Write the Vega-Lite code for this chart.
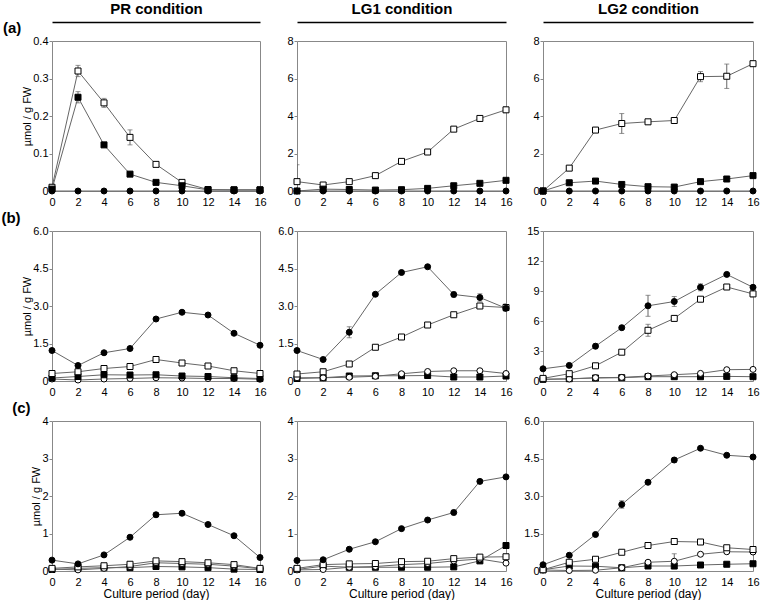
{
  "$schema": "https://vega.github.io/schema/vega-lite/v6.json",
  "padding": 0,
  "background": "white",
  "columns": 3,
  "spacing": {"row": 2, "column": 10},
  "config": {
    "font": "Liberation Sans",
    "view": {"stroke": "#888", "strokeWidth": 1},
    "axis": {"labelFont": "Liberation Sans", "labelFontSize": 11, "labelColor": "black", "titleFont": "Liberation Sans", "titleFontSize": 11, "titleFontWeight": "normal", "titleColor": "black", "grid": false, "domain": false, "tickColor": "#888", "tickSize": 3, "labelFlush": false, "labelOverlap": false},
    "axisX": {"ticks": false, "labelPadding": 5, "titlePadding": 1, "titleFontSize": 12},
    "axisY": {"labelPadding": 1, "titlePadding": 0},
    "title": {"font": "Liberation Sans", "color": "black"}
  },
  "datasets": {
    "aPR": [
      {"series": "os", "day": 0, "value": 0.01}, {"series": "os", "day": 2, "value": 0.32, "sd": 0.015}, {"series": "os", "day": 4, "value": 0.235, "sd": 0.012}, {"series": "os", "day": 6, "value": 0.143, "sd": 0.02}, {"series": "os", "day": 8, "value": 0.071, "sd": 0.005}, {"series": "os", "day": 10, "value": 0.023, "sd": 0.003}, {"series": "os", "day": 12, "value": 0.004}, {"series": "os", "day": 14, "value": 0.003}, {"series": "os", "day": 16, "value": 0.003},
      {"series": "fs", "day": 0, "value": 0.005}, {"series": "fs", "day": 2, "value": 0.25, "sd": 0.015}, {"series": "fs", "day": 4, "value": 0.123, "sd": 0.004}, {"series": "fs", "day": 6, "value": 0.045}, {"series": "fs", "day": 8, "value": 0.023}, {"series": "fs", "day": 10, "value": 0.014}, {"series": "fs", "day": 12, "value": 0.003}, {"series": "fs", "day": 14, "value": 0.003}, {"series": "fs", "day": 16, "value": 0.003},
      {"series": "fc", "day": 0, "value": 0}, {"series": "fc", "day": 2, "value": 0}, {"series": "fc", "day": 4, "value": 0}, {"series": "fc", "day": 6, "value": 0}, {"series": "fc", "day": 8, "value": 0}, {"series": "fc", "day": 10, "value": 0}, {"series": "fc", "day": 12, "value": 0}, {"series": "fc", "day": 14, "value": 0}, {"series": "fc", "day": 16, "value": 0}
    ],
    "aLG1": [
      {"series": "os", "day": 0, "value": 0.5, "sd": 0.9}, {"series": "os", "day": 2, "value": 0.32}, {"series": "os", "day": 4, "value": 0.5}, {"series": "os", "day": 6, "value": 0.82}, {"series": "os", "day": 8, "value": 1.58}, {"series": "os", "day": 10, "value": 2.08}, {"series": "os", "day": 12, "value": 3.3, "sd": 0.05}, {"series": "os", "day": 14, "value": 3.87, "sd": 0.12}, {"series": "os", "day": 16, "value": 4.33, "sd": 0.15},
      {"series": "fs", "day": 0, "value": 0}, {"series": "fs", "day": 2, "value": 0.1}, {"series": "fs", "day": 4, "value": 0.08}, {"series": "fs", "day": 6, "value": 0.05}, {"series": "fs", "day": 8, "value": 0.07}, {"series": "fs", "day": 10, "value": 0.14}, {"series": "fs", "day": 12, "value": 0.28}, {"series": "fs", "day": 14, "value": 0.41}, {"series": "fs", "day": 16, "value": 0.57},
      {"series": "fc", "day": 0, "value": 0}, {"series": "fc", "day": 2, "value": 0}, {"series": "fc", "day": 4, "value": 0}, {"series": "fc", "day": 6, "value": 0}, {"series": "fc", "day": 8, "value": 0}, {"series": "fc", "day": 10, "value": 0}, {"series": "fc", "day": 12, "value": 0}, {"series": "fc", "day": 14, "value": 0}, {"series": "fc", "day": 16, "value": 0}
    ],
    "aLG2": [
      {"series": "os", "day": 0, "value": 0}, {"series": "os", "day": 2, "value": 1.22}, {"series": "os", "day": 4, "value": 3.25, "sd": 0.08}, {"series": "os", "day": 6, "value": 3.6, "sd": 0.53}, {"series": "os", "day": 8, "value": 3.69}, {"series": "os", "day": 10, "value": 3.76}, {"series": "os", "day": 12, "value": 6.1, "sd": 0.27}, {"series": "os", "day": 14, "value": 6.12, "sd": 0.65}, {"series": "os", "day": 16, "value": 6.79, "sd": 0.15},
      {"series": "fs", "day": 0, "value": 0}, {"series": "fs", "day": 2, "value": 0.44}, {"series": "fs", "day": 4, "value": 0.53}, {"series": "fs", "day": 6, "value": 0.35}, {"series": "fs", "day": 8, "value": 0.23}, {"series": "fs", "day": 10, "value": 0.21}, {"series": "fs", "day": 12, "value": 0.5}, {"series": "fs", "day": 14, "value": 0.64}, {"series": "fs", "day": 16, "value": 0.82},
      {"series": "fc", "day": 0, "value": 0}, {"series": "fc", "day": 2, "value": 0}, {"series": "fc", "day": 4, "value": 0}, {"series": "fc", "day": 6, "value": 0}, {"series": "fc", "day": 8, "value": 0}, {"series": "fc", "day": 10, "value": 0}, {"series": "fc", "day": 12, "value": 0}, {"series": "fc", "day": 14, "value": 0}, {"series": "fc", "day": 16, "value": 0}
    ],
    "bPR": [
      {"series": "oc", "day": 0, "value": 0.08}, {"series": "oc", "day": 2, "value": 0.04}, {"series": "oc", "day": 4, "value": 0.08}, {"series": "oc", "day": 6, "value": 0.1}, {"series": "oc", "day": 8, "value": 0.13}, {"series": "oc", "day": 10, "value": 0.12}, {"series": "oc", "day": 12, "value": 0.1}, {"series": "oc", "day": 14, "value": 0.1}, {"series": "oc", "day": 16, "value": 0.07},
      {"series": "fs", "day": 0, "value": 0.12}, {"series": "fs", "day": 2, "value": 0.18}, {"series": "fs", "day": 4, "value": 0.25}, {"series": "fs", "day": 6, "value": 0.24}, {"series": "fs", "day": 8, "value": 0.25}, {"series": "fs", "day": 10, "value": 0.2}, {"series": "fs", "day": 12, "value": 0.18}, {"series": "fs", "day": 14, "value": 0.13}, {"series": "fs", "day": 16, "value": 0.1},
      {"series": "os", "day": 0, "value": 0.3}, {"series": "os", "day": 2, "value": 0.37}, {"series": "os", "day": 4, "value": 0.5}, {"series": "os", "day": 6, "value": 0.58}, {"series": "os", "day": 8, "value": 0.86}, {"series": "os", "day": 10, "value": 0.72}, {"series": "os", "day": 12, "value": 0.6}, {"series": "os", "day": 14, "value": 0.41}, {"series": "os", "day": 16, "value": 0.3},
      {"series": "fc", "day": 0, "value": 1.22}, {"series": "fc", "day": 2, "value": 0.62}, {"series": "fc", "day": 4, "value": 1.13}, {"series": "fc", "day": 6, "value": 1.3}, {"series": "fc", "day": 8, "value": 2.48}, {"series": "fc", "day": 10, "value": 2.75}, {"series": "fc", "day": 12, "value": 2.64}, {"series": "fc", "day": 14, "value": 1.91}, {"series": "fc", "day": 16, "value": 1.43}
    ],
    "bLG1": [
      {"series": "fs", "day": 0, "value": 0.1}, {"series": "fs", "day": 2, "value": 0.13}, {"series": "fs", "day": 4, "value": 0.2}, {"series": "fs", "day": 6, "value": 0.21}, {"series": "fs", "day": 8, "value": 0.21}, {"series": "fs", "day": 10, "value": 0.22}, {"series": "fs", "day": 12, "value": 0.16}, {"series": "fs", "day": 14, "value": 0.16}, {"series": "fs", "day": 16, "value": 0.2},
      {"series": "oc", "day": 0, "value": 0.13}, {"series": "oc", "day": 2, "value": 0.13}, {"series": "oc", "day": 4, "value": 0.15}, {"series": "oc", "day": 6, "value": 0.19}, {"series": "oc", "day": 8, "value": 0.29}, {"series": "oc", "day": 10, "value": 0.38}, {"series": "oc", "day": 12, "value": 0.41}, {"series": "oc", "day": 14, "value": 0.41}, {"series": "oc", "day": 16, "value": 0.3},
      {"series": "os", "day": 0, "value": 0.28}, {"series": "os", "day": 2, "value": 0.37}, {"series": "os", "day": 4, "value": 0.68}, {"series": "os", "day": 6, "value": 1.35}, {"series": "os", "day": 8, "value": 1.76}, {"series": "os", "day": 10, "value": 2.24}, {"series": "os", "day": 12, "value": 2.65}, {"series": "os", "day": 14, "value": 3.0, "sd": 0.1}, {"series": "os", "day": 16, "value": 2.94, "sd": 0.15},
      {"series": "fc", "day": 0, "value": 1.22}, {"series": "fc", "day": 2, "value": 0.86}, {"series": "fc", "day": 4, "value": 1.95, "sd": 0.22}, {"series": "fc", "day": 6, "value": 3.47}, {"series": "fc", "day": 8, "value": 4.34, "sd": 0.04}, {"series": "fc", "day": 10, "value": 4.57, "sd": 0.06}, {"series": "fc", "day": 12, "value": 3.46, "sd": 0.1}, {"series": "fc", "day": 14, "value": 3.34, "sd": 0.15}, {"series": "fc", "day": 16, "value": 2.91, "sd": 0.13}
    ],
    "bLG2": [
      {"series": "fs", "day": 0, "value": 0.17}, {"series": "fs", "day": 2, "value": 0.23}, {"series": "fs", "day": 4, "value": 0.3}, {"series": "fs", "day": 6, "value": 0.33}, {"series": "fs", "day": 8, "value": 0.43}, {"series": "fs", "day": 10, "value": 0.43}, {"series": "fs", "day": 12, "value": 0.43}, {"series": "fs", "day": 14, "value": 0.46}, {"series": "fs", "day": 16, "value": 0.43},
      {"series": "oc", "day": 0, "value": 0.17}, {"series": "oc", "day": 2, "value": 0.2}, {"series": "oc", "day": 4, "value": 0.33}, {"series": "oc", "day": 6, "value": 0.36}, {"series": "oc", "day": 8, "value": 0.5}, {"series": "oc", "day": 10, "value": 0.63}, {"series": "oc", "day": 12, "value": 0.76}, {"series": "oc", "day": 14, "value": 1.13}, {"series": "oc", "day": 16, "value": 1.16},
      {"series": "os", "day": 0, "value": 0.26}, {"series": "os", "day": 2, "value": 0.73}, {"series": "os", "day": 4, "value": 1.52}, {"series": "os", "day": 6, "value": 2.88}, {"series": "os", "day": 8, "value": 5.07, "sd": 0.6}, {"series": "os", "day": 10, "value": 6.26, "sd": 0.25}, {"series": "os", "day": 12, "value": 8.18, "sd": 0.2}, {"series": "os", "day": 14, "value": 9.4, "sd": 0.15}, {"series": "os", "day": 16, "value": 8.71, "sd": 0.3},
      {"series": "fc", "day": 0, "value": 1.22}, {"series": "fc", "day": 2, "value": 1.56}, {"series": "fc", "day": 4, "value": 3.48, "sd": 0.25}, {"series": "fc", "day": 6, "value": 5.33, "sd": 0.1}, {"series": "fc", "day": 8, "value": 7.52, "sd": 1.05}, {"series": "fc", "day": 10, "value": 7.95, "sd": 0.5}, {"series": "fc", "day": 12, "value": 9.37, "sd": 0.35}, {"series": "fc", "day": 14, "value": 10.66, "sd": 0.15}, {"series": "fc", "day": 16, "value": 9.37, "sd": 0.2}
    ],
    "cPR": [
      {"series": "fs", "day": 0, "value": 0.04}, {"series": "fs", "day": 2, "value": 0.07}, {"series": "fs", "day": 4, "value": 0.09}, {"series": "fs", "day": 6, "value": 0.09}, {"series": "fs", "day": 8, "value": 0.12}, {"series": "fs", "day": 10, "value": 0.11}, {"series": "fs", "day": 12, "value": 0.09}, {"series": "fs", "day": 14, "value": 0.05}, {"series": "fs", "day": 16, "value": 0.04},
      {"series": "oc", "day": 0, "value": 0.05}, {"series": "oc", "day": 2, "value": 0.03}, {"series": "oc", "day": 4, "value": 0.07}, {"series": "oc", "day": 6, "value": 0.12}, {"series": "oc", "day": 8, "value": 0.22}, {"series": "oc", "day": 10, "value": 0.2}, {"series": "oc", "day": 12, "value": 0.18}, {"series": "oc", "day": 14, "value": 0.13}, {"series": "oc", "day": 16, "value": 0.06},
      {"series": "os", "day": 0, "value": 0.07}, {"series": "os", "day": 2, "value": 0.11}, {"series": "os", "day": 4, "value": 0.14}, {"series": "os", "day": 6, "value": 0.18}, {"series": "os", "day": 8, "value": 0.27}, {"series": "os", "day": 10, "value": 0.25}, {"series": "os", "day": 12, "value": 0.22}, {"series": "os", "day": 14, "value": 0.17}, {"series": "os", "day": 16, "value": 0.07},
      {"series": "fc", "day": 0, "value": 0.29}, {"series": "fc", "day": 2, "value": 0.19}, {"series": "fc", "day": 4, "value": 0.43}, {"series": "fc", "day": 6, "value": 0.9}, {"series": "fc", "day": 8, "value": 1.5, "sd": 0.06}, {"series": "fc", "day": 10, "value": 1.54, "sd": 0.05}, {"series": "fc", "day": 12, "value": 1.24}, {"series": "fc", "day": 14, "value": 0.94}, {"series": "fc", "day": 16, "value": 0.36}
    ],
    "cLG1": [
      {"series": "fs", "day": 0, "value": 0.04}, {"series": "fs", "day": 2, "value": 0.13}, {"series": "fs", "day": 4, "value": 0.1}, {"series": "fs", "day": 6, "value": 0.1}, {"series": "fs", "day": 8, "value": 0.1}, {"series": "fs", "day": 10, "value": 0.1}, {"series": "fs", "day": 12, "value": 0.11}, {"series": "fs", "day": 14, "value": 0.27}, {"series": "fs", "day": 16, "value": 0.68},
      {"series": "oc", "day": 0, "value": 0.03}, {"series": "oc", "day": 2, "value": 0.04}, {"series": "oc", "day": 4, "value": 0.1}, {"series": "oc", "day": 6, "value": 0.12}, {"series": "oc", "day": 8, "value": 0.17}, {"series": "oc", "day": 10, "value": 0.2}, {"series": "oc", "day": 12, "value": 0.27}, {"series": "oc", "day": 14, "value": 0.32}, {"series": "oc", "day": 16, "value": 0.21},
      {"series": "os", "day": 0, "value": 0.07}, {"series": "os", "day": 2, "value": 0.17}, {"series": "os", "day": 4, "value": 0.19}, {"series": "os", "day": 6, "value": 0.2}, {"series": "os", "day": 8, "value": 0.25}, {"series": "os", "day": 10, "value": 0.26}, {"series": "os", "day": 12, "value": 0.33}, {"series": "os", "day": 14, "value": 0.37}, {"series": "os", "day": 16, "value": 0.38},
      {"series": "fc", "day": 0, "value": 0.28}, {"series": "fc", "day": 2, "value": 0.3}, {"series": "fc", "day": 4, "value": 0.58}, {"series": "fc", "day": 6, "value": 0.78}, {"series": "fc", "day": 8, "value": 1.13}, {"series": "fc", "day": 10, "value": 1.36}, {"series": "fc", "day": 12, "value": 1.56, "sd": 0.06}, {"series": "fc", "day": 14, "value": 2.39, "sd": 0.04}, {"series": "fc", "day": 16, "value": 2.51}
    ],
    "cLG2": [
      {"series": "fs", "day": 0, "value": 0.05}, {"series": "fs", "day": 2, "value": 0.2}, {"series": "fs", "day": 4, "value": 0.19}, {"series": "fs", "day": 6, "value": 0.13}, {"series": "fs", "day": 8, "value": 0.2}, {"series": "fs", "day": 10, "value": 0.2}, {"series": "fs", "day": 12, "value": 0.24}, {"series": "fs", "day": 14, "value": 0.27}, {"series": "fs", "day": 16, "value": 0.29},
      {"series": "oc", "day": 0, "value": 0.04}, {"series": "oc", "day": 2, "value": 0.02}, {"series": "oc", "day": 4, "value": 0.03}, {"series": "oc", "day": 6, "value": 0.13}, {"series": "oc", "day": 8, "value": 0.35}, {"series": "oc", "day": 10, "value": 0.39, "sd": 0.3}, {"series": "oc", "day": 12, "value": 0.67}, {"series": "oc", "day": 14, "value": 0.77}, {"series": "oc", "day": 16, "value": 0.76},
      {"series": "os", "day": 0, "value": 0.05}, {"series": "os", "day": 2, "value": 0.35}, {"series": "os", "day": 4, "value": 0.47}, {"series": "os", "day": 6, "value": 0.75}, {"series": "os", "day": 8, "value": 1.02}, {"series": "os", "day": 10, "value": 1.18}, {"series": "os", "day": 12, "value": 1.16}, {"series": "os", "day": 14, "value": 0.93}, {"series": "os", "day": 16, "value": 0.86},
      {"series": "fc", "day": 0, "value": 0.25}, {"series": "fc", "day": 2, "value": 0.63}, {"series": "fc", "day": 4, "value": 1.46}, {"series": "fc", "day": 6, "value": 2.66, "sd": 0.15}, {"series": "fc", "day": 8, "value": 3.55}, {"series": "fc", "day": 10, "value": 4.44, "sd": 0.1}, {"series": "fc", "day": 12, "value": 4.91}, {"series": "fc", "day": 14, "value": 4.63}, {"series": "fc", "day": 16, "value": 4.56}
    ]
  },
  "concat": [
    {
      "width": 208, "height": 150, "data": {"name": "aPR"},
      "title": {"text": "(a)", "orient": "left", "anchor": "end", "angle": 0, "align": "right", "baseline": "middle", "dy": -13, "fontSize": 15, "fontWeight": "bold", "offset": -18, "frame": "group"},
      "resolve": {"axis": {"x": "independent"}},
      "encoding": {
        "x": {"field": "day", "type": "quantitative", "scale": {"domain": [0, 16], "nice": false}, "axis": {"values": [0, 2, 4, 6, 8, 10, 12, 14, 16], "title": null}},
        "y": {"field": "value", "type": "quantitative", "scale": {"domain": [0, 0.4], "nice": false}, "axis": {"values": [0, 0.1, 0.2, 0.3, 0.4], "format": ".1f", "labelExpr": "datum.value == 0 ? '0' : datum.label", "title": "µmol / g FW"}}
      },
      "layer": [
        {"mark": {"type": "line", "color": "#666", "strokeWidth": 1}, "encoding": {"detail": {"field": "series"}}},
        {"transform": [{"filter": "datum.sd > 0"}], "mark": {"type": "errorbar", "color": "#666", "ticks": true, "clip": true},
         "encoding": {"x": {"field": "day", "type": "quantitative", "axis": null}, "yError": {"field": "sd"}}},
        {"mark": {"type": "point", "filled": true, "size": 36, "stroke": "black", "strokeWidth": 1, "opacity": 1},
         "encoding": {"x": {"field": "day", "type": "quantitative", "axis": {"orient": "top", "offset": 19, "labels": false, "ticks": false, "domain": true, "domainColor": "black", "domainWidth": 1.5, "title": "PR condition", "titleFontSize": 15, "titleFontWeight": "bold", "titlePadding": 6}},
                      "shape": {"field": "series", "scale": {"domain": ["fc", "fs", "os", "oc"], "range": ["circle", "square", "square", "circle"]}, "legend": null},
                      "fill": {"field": "series", "scale": {"domain": ["fc", "fs", "os", "oc"], "range": ["black", "black", "white", "white"]}, "legend": null}}}
      ]
    },
    {
      "width": 209, "height": 150, "data": {"name": "aLG1"},
      "resolve": {"axis": {"x": "independent"}},
      "encoding": {
        "x": {"field": "day", "type": "quantitative", "scale": {"domain": [0, 16], "nice": false}, "axis": {"values": [0, 2, 4, 6, 8, 10, 12, 14, 16], "title": null}},
        "y": {"field": "value", "type": "quantitative", "scale": {"domain": [0, 8], "nice": false}, "axis": {"values": [0, 2, 4, 6, 8], "format": "d", "title": null}}
      },
      "layer": [
        {"mark": {"type": "line", "color": "#666", "strokeWidth": 1}, "encoding": {"detail": {"field": "series"}}},
        {"transform": [{"filter": "datum.sd > 0"}], "mark": {"type": "errorbar", "color": "#666", "ticks": true, "clip": true},
         "encoding": {"x": {"field": "day", "type": "quantitative", "axis": null}, "yError": {"field": "sd"}}},
        {"mark": {"type": "point", "filled": true, "size": 36, "stroke": "black", "strokeWidth": 1, "opacity": 1},
         "encoding": {"x": {"field": "day", "type": "quantitative", "axis": {"orient": "top", "offset": 19, "labels": false, "ticks": false, "domain": true, "domainColor": "black", "domainWidth": 1.5, "title": "LG1 condition", "titleFontSize": 15, "titleFontWeight": "bold", "titlePadding": 6}},
                      "shape": {"field": "series", "scale": {"domain": ["fc", "fs", "os", "oc"], "range": ["circle", "square", "square", "circle"]}, "legend": null},
                      "fill": {"field": "series", "scale": {"domain": ["fc", "fs", "os", "oc"], "range": ["black", "black", "white", "white"]}, "legend": null}}}
      ]
    },
    {
      "width": 210, "height": 150, "data": {"name": "aLG2"},
      "resolve": {"axis": {"x": "independent"}},
      "encoding": {
        "x": {"field": "day", "type": "quantitative", "scale": {"domain": [0, 16], "nice": false}, "axis": {"values": [0, 2, 4, 6, 8, 10, 12, 14, 16], "title": null}},
        "y": {"field": "value", "type": "quantitative", "scale": {"domain": [0, 8], "nice": false}, "axis": {"values": [0, 2, 4, 6, 8], "format": "d", "title": null}}
      },
      "layer": [
        {"mark": {"type": "line", "color": "#666", "strokeWidth": 1}, "encoding": {"detail": {"field": "series"}}},
        {"transform": [{"filter": "datum.sd > 0"}], "mark": {"type": "errorbar", "color": "#666", "ticks": true, "clip": true},
         "encoding": {"x": {"field": "day", "type": "quantitative", "axis": null}, "yError": {"field": "sd"}}},
        {"mark": {"type": "point", "filled": true, "size": 36, "stroke": "black", "strokeWidth": 1, "opacity": 1},
         "encoding": {"x": {"field": "day", "type": "quantitative", "axis": {"orient": "top", "offset": 19, "labels": false, "ticks": false, "domain": true, "domainColor": "black", "domainWidth": 1.5, "title": "LG2 condition", "titleFontSize": 15, "titleFontWeight": "bold", "titlePadding": 6}},
                      "shape": {"field": "series", "scale": {"domain": ["fc", "fs", "os", "oc"], "range": ["circle", "square", "square", "circle"]}, "legend": null},
                      "fill": {"field": "series", "scale": {"domain": ["fc", "fs", "os", "oc"], "range": ["black", "black", "white", "white"]}, "legend": null}}}
      ]
    },
    {
      "width": 208, "height": 150, "data": {"name": "bPR"},
      "title": {"text": "(b)", "orient": "left", "anchor": "end", "angle": 0, "align": "right", "baseline": "middle", "dy": -13, "fontSize": 15, "fontWeight": "bold", "offset": -18, "frame": "group"},
      "encoding": {
        "x": {"field": "day", "type": "quantitative", "scale": {"domain": [0, 16], "nice": false}, "axis": {"values": [0, 2, 4, 6, 8, 10, 12, 14, 16], "title": null}},
        "y": {"field": "value", "type": "quantitative", "scale": {"domain": [0, 6], "nice": false}, "axis": {"values": [0, 1.5, 3, 4.5, 6], "format": ".1f", "labelExpr": "datum.value == 0 ? '0' : datum.label", "title": "µmol / g FW"}}
      },
      "layer": [
        {"mark": {"type": "line", "color": "#666", "strokeWidth": 1}, "encoding": {"detail": {"field": "series"}}},
        {"transform": [{"filter": "datum.sd > 0"}], "mark": {"type": "errorbar", "color": "#666", "ticks": true, "clip": true}, "encoding": {"yError": {"field": "sd"}}},
        {"mark": {"type": "point", "filled": true, "size": 36, "stroke": "black", "strokeWidth": 1, "opacity": 1},
         "encoding": {"shape": {"field": "series", "scale": {"domain": ["fc", "fs", "os", "oc"], "range": ["circle", "square", "square", "circle"]}, "legend": null},
                      "fill": {"field": "series", "scale": {"domain": ["fc", "fs", "os", "oc"], "range": ["black", "black", "white", "white"]}, "legend": null}}}
      ]
    },
    {
      "width": 209, "height": 150, "data": {"name": "bLG1"},
      "encoding": {
        "x": {"field": "day", "type": "quantitative", "scale": {"domain": [0, 16], "nice": false}, "axis": {"values": [0, 2, 4, 6, 8, 10, 12, 14, 16], "title": null}},
        "y": {"field": "value", "type": "quantitative", "scale": {"domain": [0, 6], "nice": false}, "axis": {"values": [0, 1.5, 3, 4.5, 6], "format": ".1f", "labelExpr": "datum.value == 0 ? '0' : datum.label", "title": null}}
      },
      "layer": [
        {"mark": {"type": "line", "color": "#666", "strokeWidth": 1}, "encoding": {"detail": {"field": "series"}}},
        {"transform": [{"filter": "datum.sd > 0"}], "mark": {"type": "errorbar", "color": "#666", "ticks": true, "clip": true}, "encoding": {"yError": {"field": "sd"}}},
        {"mark": {"type": "point", "filled": true, "size": 36, "stroke": "black", "strokeWidth": 1, "opacity": 1},
         "encoding": {"shape": {"field": "series", "scale": {"domain": ["fc", "fs", "os", "oc"], "range": ["circle", "square", "square", "circle"]}, "legend": null},
                      "fill": {"field": "series", "scale": {"domain": ["fc", "fs", "os", "oc"], "range": ["black", "black", "white", "white"]}, "legend": null}}}
      ]
    },
    {
      "width": 210, "height": 150, "data": {"name": "bLG2"},
      "encoding": {
        "x": {"field": "day", "type": "quantitative", "scale": {"domain": [0, 16], "nice": false}, "axis": {"values": [0, 2, 4, 6, 8, 10, 12, 14, 16], "title": null}},
        "y": {"field": "value", "type": "quantitative", "scale": {"domain": [0, 15], "nice": false}, "axis": {"values": [0, 3, 6, 9, 12, 15], "format": "d", "title": null}}
      },
      "layer": [
        {"mark": {"type": "line", "color": "#666", "strokeWidth": 1}, "encoding": {"detail": {"field": "series"}}},
        {"transform": [{"filter": "datum.sd > 0"}], "mark": {"type": "errorbar", "color": "#666", "ticks": true, "clip": true}, "encoding": {"yError": {"field": "sd"}}},
        {"mark": {"type": "point", "filled": true, "size": 36, "stroke": "black", "strokeWidth": 1, "opacity": 1},
         "encoding": {"shape": {"field": "series", "scale": {"domain": ["fc", "fs", "os", "oc"], "range": ["circle", "square", "square", "circle"]}, "legend": null},
                      "fill": {"field": "series", "scale": {"domain": ["fc", "fs", "os", "oc"], "range": ["black", "black", "white", "white"]}, "legend": null}}}
      ]
    },
    {
      "width": 208, "height": 150, "data": {"name": "cPR"},
      "title": {"text": "(c)", "orient": "left", "anchor": "end", "angle": 0, "align": "right", "baseline": "middle", "dy": -13, "fontSize": 15, "fontWeight": "bold", "offset": -18, "frame": "group"},
      "encoding": {
        "x": {"field": "day", "type": "quantitative", "scale": {"domain": [0, 16], "nice": false}, "axis": {"values": [0, 2, 4, 6, 8, 10, 12, 14, 16], "title": "Culture period (day)"}},
        "y": {"field": "value", "type": "quantitative", "scale": {"domain": [0, 4], "nice": false}, "axis": {"values": [0, 1, 2, 3, 4], "format": "d", "title": "µmol / g FW"}}
      },
      "layer": [
        {"mark": {"type": "line", "color": "#666", "strokeWidth": 1}, "encoding": {"detail": {"field": "series"}}},
        {"transform": [{"filter": "datum.sd > 0"}], "mark": {"type": "errorbar", "color": "#666", "ticks": true, "clip": true}, "encoding": {"yError": {"field": "sd"}}},
        {"mark": {"type": "point", "filled": true, "size": 36, "stroke": "black", "strokeWidth": 1, "opacity": 1},
         "encoding": {"shape": {"field": "series", "scale": {"domain": ["fc", "fs", "os", "oc"], "range": ["circle", "square", "square", "circle"]}, "legend": null},
                      "fill": {"field": "series", "scale": {"domain": ["fc", "fs", "os", "oc"], "range": ["black", "black", "white", "white"]}, "legend": null}}}
      ]
    },
    {
      "width": 209, "height": 150, "data": {"name": "cLG1"},
      "encoding": {
        "x": {"field": "day", "type": "quantitative", "scale": {"domain": [0, 16], "nice": false}, "axis": {"values": [0, 2, 4, 6, 8, 10, 12, 14, 16], "title": "Culture period (day)"}},
        "y": {"field": "value", "type": "quantitative", "scale": {"domain": [0, 4], "nice": false}, "axis": {"values": [0, 1, 2, 3, 4], "format": "d", "title": null}}
      },
      "layer": [
        {"mark": {"type": "line", "color": "#666", "strokeWidth": 1}, "encoding": {"detail": {"field": "series"}}},
        {"transform": [{"filter": "datum.sd > 0"}], "mark": {"type": "errorbar", "color": "#666", "ticks": true, "clip": true}, "encoding": {"yError": {"field": "sd"}}},
        {"mark": {"type": "point", "filled": true, "size": 36, "stroke": "black", "strokeWidth": 1, "opacity": 1},
         "encoding": {"shape": {"field": "series", "scale": {"domain": ["fc", "fs", "os", "oc"], "range": ["circle", "square", "square", "circle"]}, "legend": null},
                      "fill": {"field": "series", "scale": {"domain": ["fc", "fs", "os", "oc"], "range": ["black", "black", "white", "white"]}, "legend": null}}}
      ]
    },
    {
      "width": 210, "height": 150, "data": {"name": "cLG2"},
      "encoding": {
        "x": {"field": "day", "type": "quantitative", "scale": {"domain": [0, 16], "nice": false}, "axis": {"values": [0, 2, 4, 6, 8, 10, 12, 14, 16], "title": "Culture period (day)"}},
        "y": {"field": "value", "type": "quantitative", "scale": {"domain": [0, 6], "nice": false}, "axis": {"values": [0, 1.5, 3, 4.5, 6], "format": ".1f", "labelExpr": "datum.value == 0 ? '0' : datum.label", "title": null}}
      },
      "layer": [
        {"mark": {"type": "line", "color": "#666", "strokeWidth": 1}, "encoding": {"detail": {"field": "series"}}},
        {"transform": [{"filter": "datum.sd > 0"}], "mark": {"type": "errorbar", "color": "#666", "ticks": true, "clip": true}, "encoding": {"yError": {"field": "sd"}}},
        {"mark": {"type": "point", "filled": true, "size": 36, "stroke": "black", "strokeWidth": 1, "opacity": 1},
         "encoding": {"shape": {"field": "series", "scale": {"domain": ["fc", "fs", "os", "oc"], "range": ["circle", "square", "square", "circle"]}, "legend": null},
                      "fill": {"field": "series", "scale": {"domain": ["fc", "fs", "os", "oc"], "range": ["black", "black", "white", "white"]}, "legend": null}}}
      ]
    }
  ]
}
